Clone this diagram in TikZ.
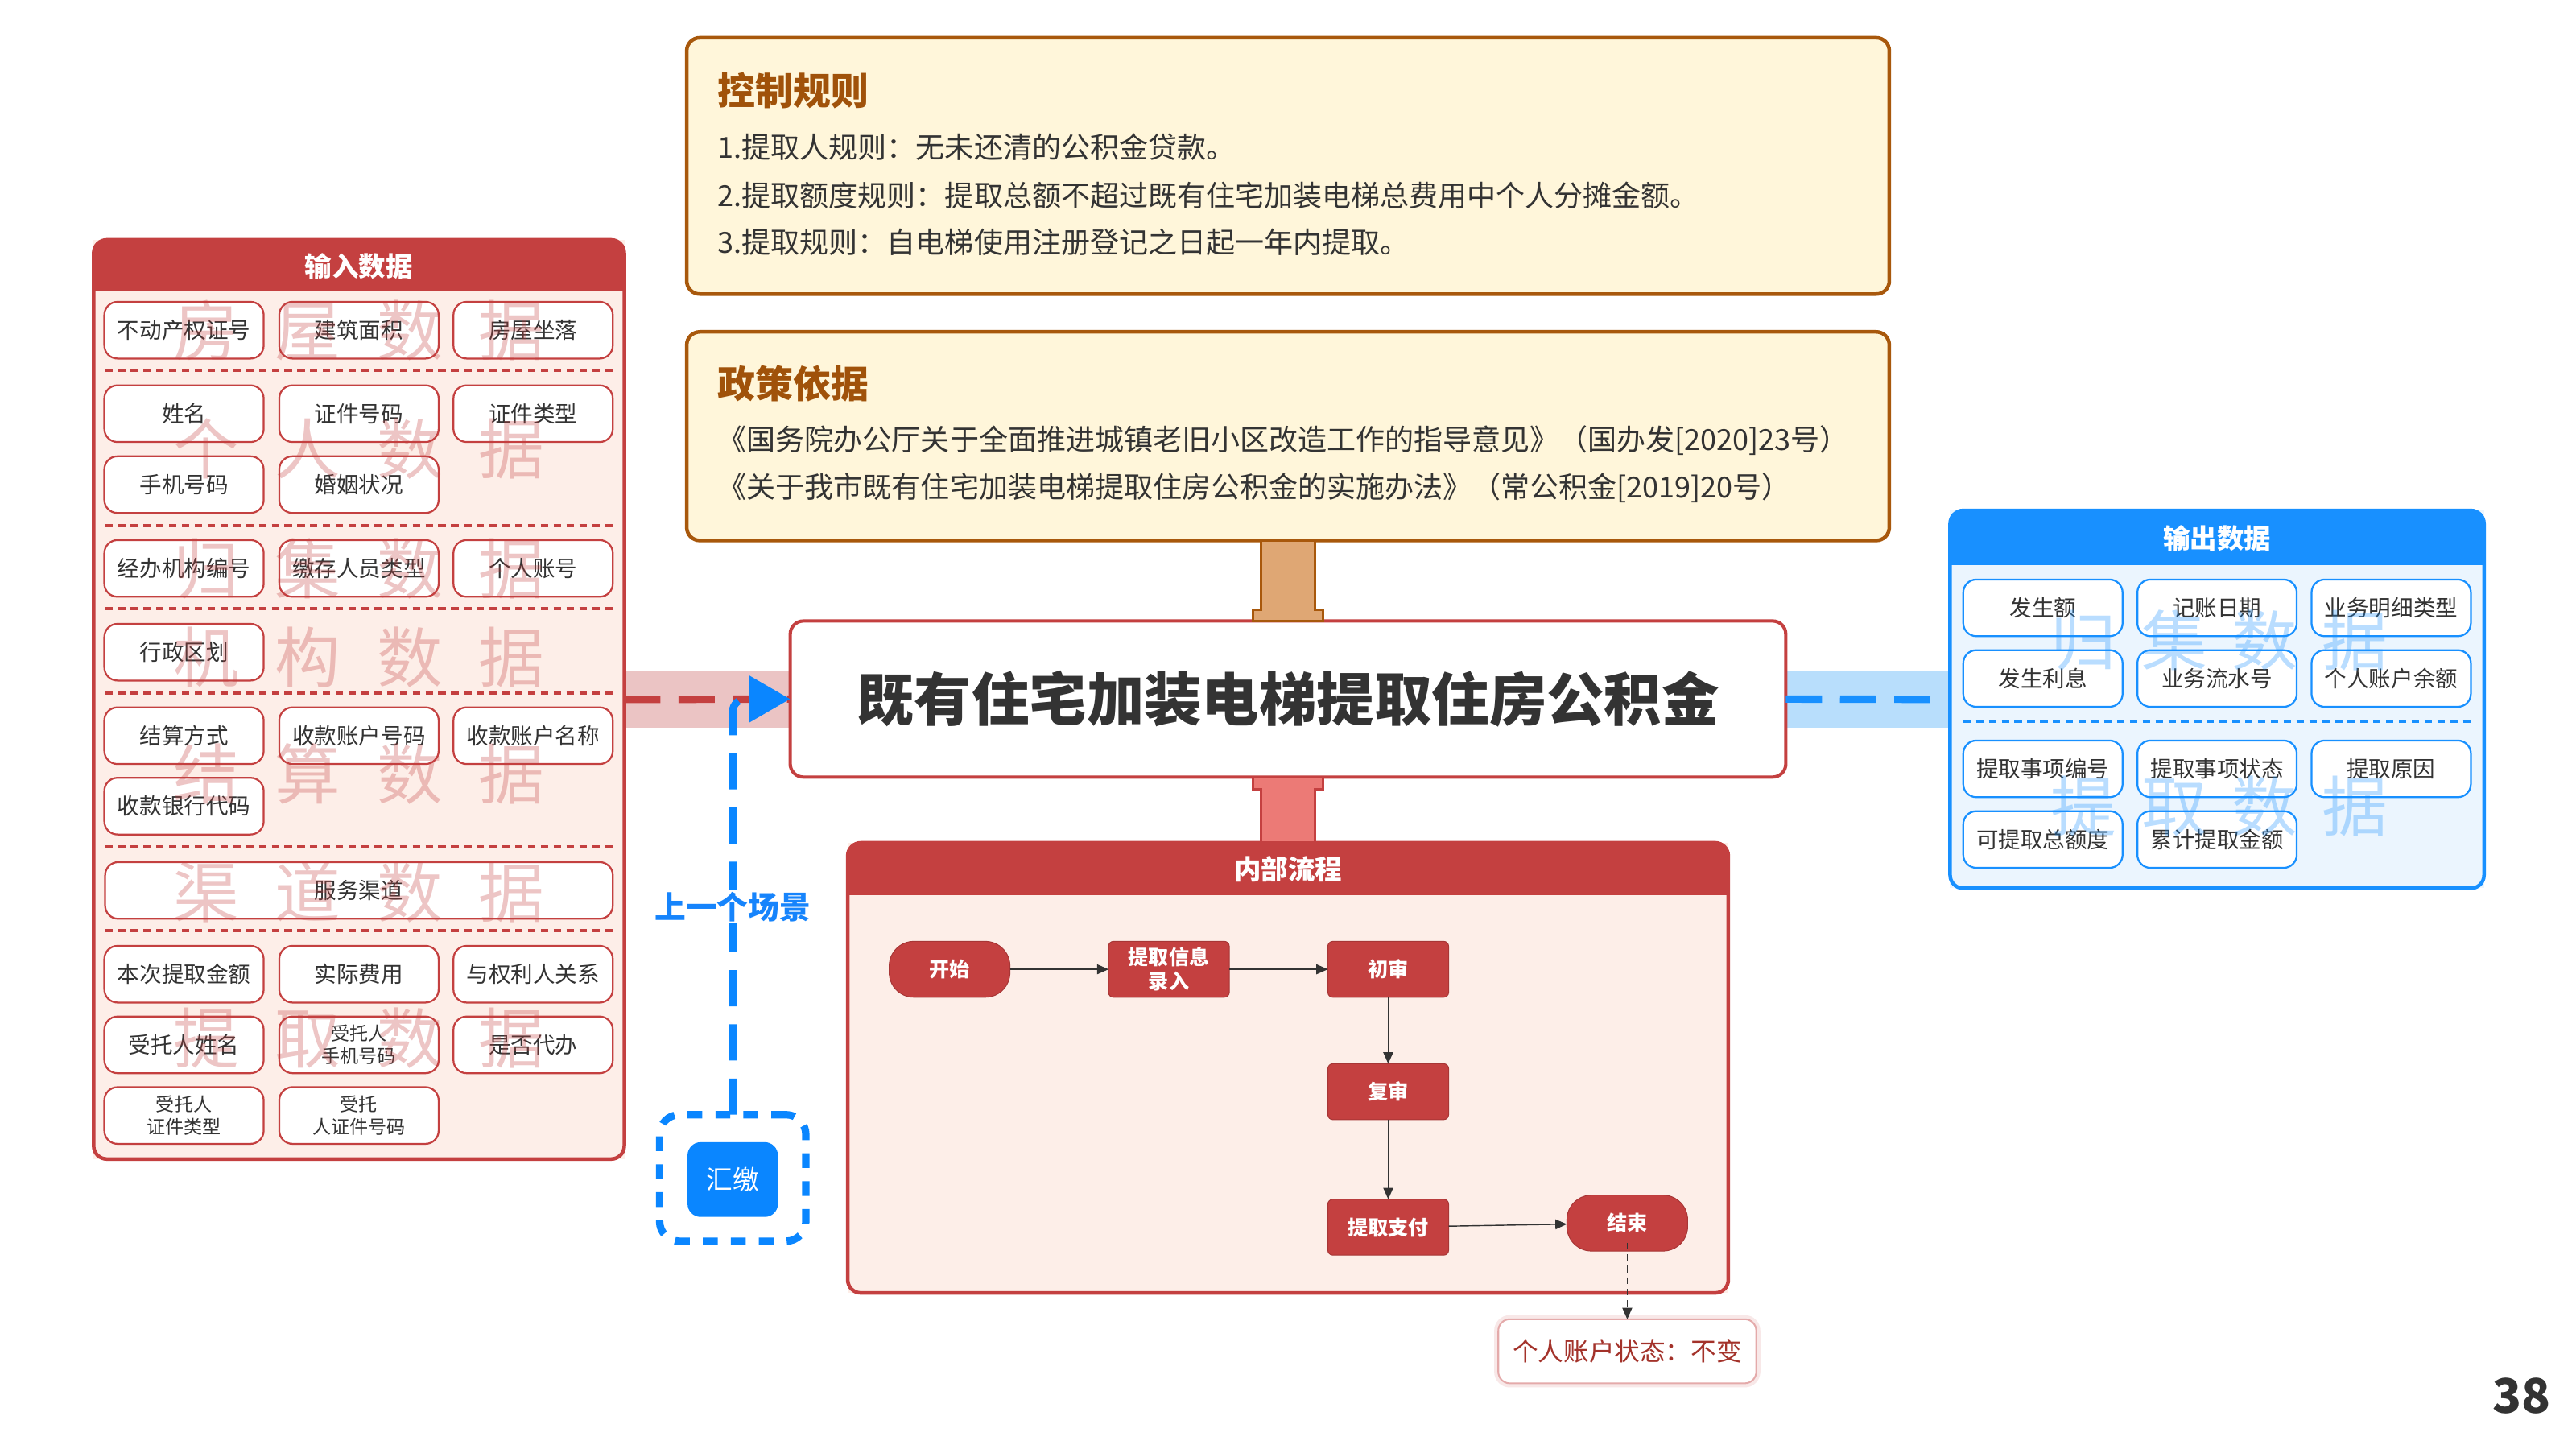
\documentclass[tikz,border=0pt]{standalone}
\usepackage{fontspec}
\setmainfont{Noto Sans CJK SC}
\usetikzlibrary{calc,arrows.meta}
\newcommand{\myfs}[1]{\fontsize{#1pt}{#1pt}\selectfont}
\definecolor{redC}{HTML}{C44040}
\definecolor{pinkB}{HTML}{FDEEE8}
\definecolor{pinkBand}{HTML}{EBC4C4}
\definecolor{blueC}{HTML}{1890FF}
\definecolor{blueB}{HTML}{EBF5FE}
\definecolor{blueBand}{HTML}{B8DEFC}
\definecolor{blueD}{HTML}{0A86FF}
\definecolor{blueL}{HTML}{1684FC}
\definecolor{brownC}{HTML}{A8580C}
\definecolor{brownT}{HTML}{A0520A}
\definecolor{creamC}{HTML}{FFF6DA}
\definecolor{pipeA}{HTML}{DFA774}
\definecolor{pipeB}{HTML}{EC7A76}
\definecolor{txt}{HTML}{333333}
\definecolor{noteT}{HTML}{A3322A}
\definecolor{noteB}{HTML}{E4AAAA}
\begin{document}
\begin{tikzpicture}[x=1pt,y=-1pt,
  every node/.style={inner sep=0pt,outer sep=0pt},
  ibox/.style={draw=redC,line width=1.1pt,fill=white,rounded corners=8pt,minimum width=97pt,minimum height=34.5pt,text=txt,font=\myfs{13.5},align=center},
  ibtwo/.style={ibox,font=\fontsize{11.3pt}{13.6pt}\selectfont},
  obox/.style={ibox,draw=blueC},
  sepR/.style={draw=redC,line width=1.8pt,dash pattern=on 4.5pt off 3.3pt},
  sepB/.style={sepR,draw=blueC},
  wmR/.style={text=redC,text opacity=0.3,font=\myfs{40}},
  wmB/.style={text=blueC,text opacity=0.3,font=\myfs{40}},
  hdr/.style={text=white,font=\bfseries\myfs{16.4}},
  flowbox/.style={fill=redC,draw=redC!85!black,line width=0.5pt,rounded corners=3pt,minimum width=73.5pt,minimum height=34pt,text=white,font=\bfseries\myfs{12.3},align=center},
  term/.style={flowbox,rounded corners=15pt},
  farr/.style={draw=txt,line width=0.7pt,-{Triangle[length=7pt,width=6pt]}},
  thickdash/.style={line width=4.5pt,dash pattern=on 22pt off 11pt},
  rule/.style={anchor=west,text=txt,font=\myfs{17.65}},
  rtitle/.style={anchor=west,text=brownT,font=\bfseries\myfs{23}},
]
\useasboundingbox (0,0) rectangle (1568,882);
\fill[white] (0,0) rectangle (1568,882);

% bands
\fill[pinkBand] (378,408.7) rectangle (482,443);
\fill[blueBand] (1086,408.7) rectangle (1189,443);

% control and policy boxes
\node[draw=brownC,line width=2.2pt,fill=creamC,rounded corners=8pt,minimum width=732pt,minimum height=156pt] (ctrl) at (784,101) {};
\node[rtitle] (ctrlT) at (437,55) {控制规则};
\node[rule] (c1) at (437,89.5) {1.提取人规则：无未还清的公积金贷款。};
\node[rule] (c2) at (437,119) {2.提取额度规则：提取总额不超过既有住宅加装电梯总费用中个人分摊金额。};
\node[rule] (c3) at (437,147.5) {3.提取规则：自电梯使用注册登记之日起一年内提取。};

\node[draw=brownC,line width=2.2pt,fill=creamC,rounded corners=8pt,minimum width=732pt,minimum height=127pt] (policy) at (784,265.5) {};
\node[rtitle] (polT) at (437,233.5) {政策依据};
\node[rule] (p1) at (437,268) {《国务院办公厅关于全面推进城镇老旧小区改造工作的指导意见》（国办发[2020]23号）};
\node[rule] (p2) at (437,297) {《关于我市既有住宅加装电梯提取住房公积金的实施办法》（常公积金[2019]20号）};

% main box
\node[draw=redC,line width=2pt,fill=white,rounded corners=8pt,minimum width=606pt,minimum height=95pt,text=txt,font=\bfseries\myfs{35}] (main) at (784,425.5) {既有住宅加装电梯提取住房公积金};

% internal flow panel
\node[fill=pinkB,minimum width=536pt,minimum height=274pt] (flowp) at (784,650) {};
\begin{scope}
\clip[rounded corners=8pt] (flowp.north west) rectangle (flowp.south east);
\fill[redC] (flowp.north west) rectangle ($(flowp.north east)+(0,32)$);
\end{scope}
\draw[redC,line width=2.2pt,rounded corners=8pt] (flowp.north west) rectangle (flowp.south east);
\node[hdr] (flowT) at (784,529) {内部流程};

% pipes
\draw[brownC,line width=1.5pt,fill=pipeA] ($(policy.south)+(-16.5,0)$) -- ($(main.north)+(-16.5,-7)$) -- ($(main.north)+(-21.5,-7)$) -- ($(main.north)+(-21.5,0)$) -- ($(main.north)+(21.5,0)$) -- ($(main.north)+(21.5,-7)$) -- ($(main.north)+(16.5,-7)$) -- ($(policy.south)+(16.5,0)$) -- cycle;
\draw[redC,line width=1.5pt,fill=pipeB] ($(main.south)+(-21.5,0)$) -- ($(main.south)+(-21.5,7.5)$) -- ($(main.south)+(-16.5,7.5)$) -- ($(flowp.north)+(-16.5,0)$) -- ($(flowp.north)+(16.5,0)$) -- ($(main.south)+(16.5,7.5)$) -- ($(main.south)+(21.5,7.5)$) -- ($(main.south)+(21.5,0)$) -- cycle;

% flow nodes
\node[term] (fstart) at (578,590) {开始};
\node[flowbox,font=\bfseries\fontsize{12.3pt}{14.5pt}\selectfont] (fentry) at (711.5,590) {提取信息\\录入};
\node[flowbox] (fchu) at (845,590) {初审};
\node[flowbox] (ffu) at (845,664.5) {复审};
\node[flowbox] (fpay) at (845,747) {提取支付};
\node[term] (fend) at (990.5,744.5) {结束};
\draw[farr] (fstart) -- (fentry);
\draw[farr] (fentry) -- (fchu);
\draw[farr] (fchu) -- (ffu);
\draw[farr] (ffu) -- (fpay);
\draw[farr] (fpay) -- (fend);

% note
\node[draw=noteB,line width=1pt,fill=white,rounded corners=7pt,minimum width=157pt,minimum height=39pt,text=noteT,font=\myfs{15.5},preaction={draw=redC!12,line width=5pt}] (note) at (990.5,822.5) {个人账户状态：不变};
\draw[farr,dash pattern=on 4pt off 3pt] ($(fend.center)+(0,12)$) -- (note.north);

% left input panel
\node[fill=pinkB,minimum width=323pt,minimum height=559.5pt] (inp) at (218.5,425.75) {};
\begin{scope}
\clip[rounded corners=8pt] (inp.north west) rectangle (inp.south east);
\fill[redC] (inp.north west) rectangle ($(inp.north east)+(0,31.5)$);
\end{scope}
\draw[redC,line width=2.2pt,rounded corners=8pt] (inp.north west) rectangle (inp.south east);
\node[hdr] (inpT) at (218.5,162) {输入数据};

\node[ibox] (l1a) at (112,201) {不动产权证号};
\node[ibox] (l1b) at (218.5,201) {建筑面积};
\node[ibox] (l1c) at (324.5,201) {房屋坐落};
\draw[sepR] (64,225.5) -- (373,225.5);
\node[ibox] (l2a) at (112,251.8) {姓名};
\node[ibox] (l2b) at (218.5,251.8) {证件号码};
\node[ibox] (l2c) at (324.5,251.8) {证件类型};
\node[ibox] (l3a) at (112,295) {手机号码};
\node[ibox] (l3b) at (218.5,295) {婚姻状况};
\draw[sepR] (64,320) -- (373,320);
\node[ibox] (l4a) at (112,346) {经办机构编号};
\node[ibox] (l4b) at (218.5,346) {缴存人员类型};
\node[ibox] (l4c) at (324.5,346) {个人账号};
\draw[sepR] (64,370.5) -- (373,370.5);
\node[ibox] (l5a) at (112,397) {行政区划};
\draw[sepR] (64,422) -- (373,422);
\node[ibox] (l6a) at (112,447.8) {结算方式};
\node[ibox] (l6b) at (218.5,447.8) {收款账户号码};
\node[ibox] (l6c) at (324.5,447.8) {收款账户名称};
\node[ibox] (l7a) at (112,490.7) {收款银行代码};
\draw[sepR] (64,515.5) -- (373,515.5);
\node[ibox,minimum width=309pt] (l8a) at (218.5,542) {服务渠道};
\draw[sepR] (64,566.5) -- (373,566.5);
\node[ibox] (l9a) at (112,593) {本次提取金额};
\node[ibox] (l9b) at (218.5,593) {实际费用};
\node[ibox] (l9c) at (324.5,593) {与权利人关系};
\node[ibox] (l10a) at (112,636) {受托人姓名};
\node[ibtwo] (l10b) at (218.5,636) {受托人\\手机号码};
\node[ibox] (l10c) at (324.5,636) {是否代办};
\node[ibtwo] (l11a) at (112,679) {受托人\\证件类型};
\node[ibtwo] (l11b) at (218.5,679) {受托\\人证件号码};

\node[wmR] (wl1) at (218.5,201) {房\hspace{22pt}屋\hspace{22pt}数\hspace{22pt}据};
\node[wmR] (wl2) at (218.5,273) {个\hspace{22pt}人\hspace{22pt}数\hspace{22pt}据};
\node[wmR] (wl3) at (218.5,346) {归\hspace{22pt}集\hspace{22pt}数\hspace{22pt}据};
\node[wmR] (wl4) at (218.5,400) {机\hspace{22pt}构\hspace{22pt}数\hspace{22pt}据};
\node[wmR] (wl5) at (218.5,471) {结\hspace{22pt}算\hspace{22pt}数\hspace{22pt}据};
\node[wmR] (wl6) at (218.5,543) {渠\hspace{22pt}道\hspace{22pt}数\hspace{22pt}据};
\node[wmR] (wl7) at (218.5,632) {提\hspace{22pt}取\hspace{22pt}数\hspace{22pt}据};

% right output panel
\node[fill=blueB,minimum width=325pt,minimum height=230pt] (outp) at (1349.5,425.7) {};
\begin{scope}
\clip[rounded corners=8pt] (outp.north west) rectangle (outp.south east);
\fill[blueC] (outp.north west) rectangle ($(outp.north east)+(0,33.5)$);
\end{scope}
\draw[blueC,line width=2.2pt,rounded corners=8pt] (outp.north west) rectangle (outp.south east);
\node[hdr] (outT) at (1349.5,327.5) {输出数据};

\node[obox] (r1a) at (1243.5,370) {发生额};
\node[obox] (r1b) at (1349.5,370) {记账日期};
\node[obox] (r1c) at (1455.5,370) {业务明细类型};
\node[obox] (r2a) at (1243.5,413) {发生利息};
\node[obox] (r2b) at (1349.5,413) {业务流水号};
\node[obox] (r2c) at (1455.5,413) {个人账户余额};
\draw[sepB] (1195,439.3) -- (1504,439.3);
\node[obox] (r3a) at (1243.5,468) {提取事项编号};
\node[obox] (r3b) at (1349.5,468) {提取事项状态};
\node[obox] (r3c) at (1455.5,468) {提取原因};
\node[obox] (r4a) at (1243.5,511) {可提取总额度};
\node[obox] (r4b) at (1349.5,511) {累计提取金额};

\node[wmB] (wr1) at (1351,390) {归\hspace{15pt}集\hspace{15pt}数\hspace{15pt}据};
\node[wmB] (wr2) at (1351,491) {提\hspace{15pt}取\hspace{15pt}数\hspace{15pt}据};

% connectors
\draw[redC,thickdash] (inp.east) -- (main.west);
\draw[blueC,thickdash] (main.east) -- (outp.west);

% previous scene
\node[draw=blueD,line width=4.5pt,dash pattern=on 9pt off 8pt,rounded corners=12pt,minimum width=89pt,minimum height=77pt] (hjc) at (446,717) {};
\node[fill=blueD,rounded corners=8pt,minimum width=55pt,minimum height=45.5pt,text=white,font=\myfs{16}] (hj) at (446,718) {汇缴};
\draw[blueD,thickdash,-{Triangle[length=25pt,width=27.5pt]}] (hjc.north) -- (446,433) to[out=90,in=180] (454,425.5) -- (main.west);
\node[fill=white,text=blueL,font=\bfseries\myfs{19},inner sep=1pt] (prev) at (446,552) {上一个场景};

% page number
\node[text=txt,font=\bfseries\myfs{29}] (pg) at (1535,849.5) {38};
\end{tikzpicture}
\end{document}
